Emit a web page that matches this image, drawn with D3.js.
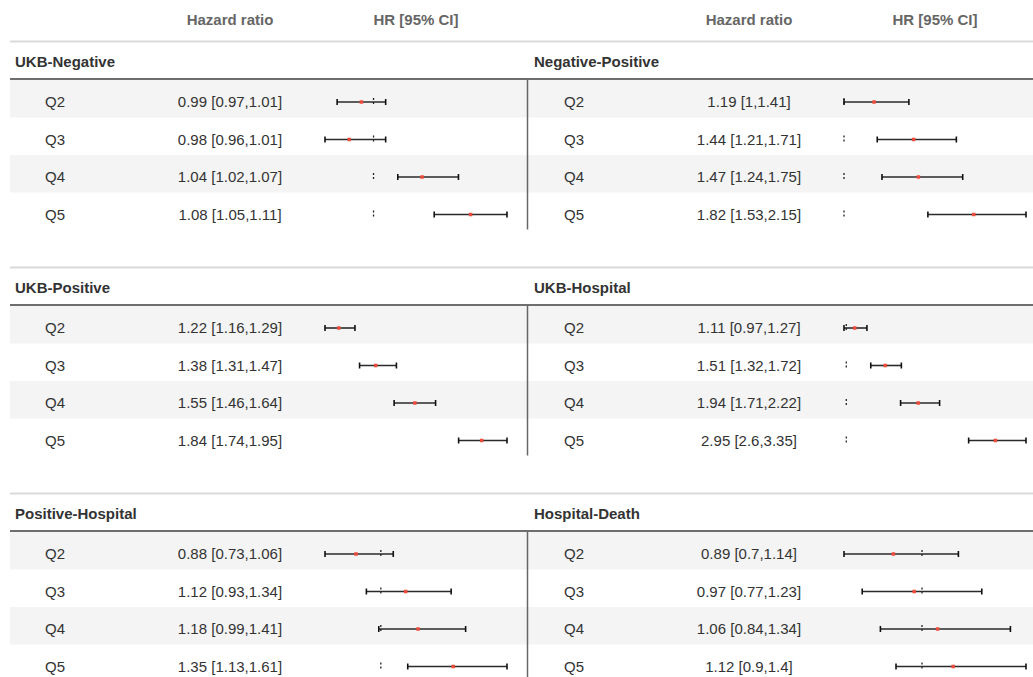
<!DOCTYPE html>
<html>
<head>
<meta charset="utf-8">
<script src="https://cdn.jsdelivr.net/npm/d3@7"></script>
<style>
  body { margin: 0; background: #fff; }
  text { font-family: "Liberation Sans", Arial, Helvetica, sans-serif; }
</style>
</head>
<body>
<div id="container"></div>
<script>
const WIDTH = 1033,
      HEIGHT = 677;

// groups in reading order (left, right, left, right ...)
const groups = ["UKB-Negative", "Negative-Positive", "UKB-Positive",
                "UKB-Hospital", "Positive-Hospital", "Hospital-Death"];
const quintiles = ["Q2", "Q3", "Q4", "Q5"];
const headers = ["Hazard ratio", "HR [95% CI]"];

// hazard ratios, one array per group
const hrValues = [
    [0.99, 0.98, 1.04, 1.08],
    [1.19, 1.44, 1.47, 1.82],
    [1.22, 1.38, 1.55, 1.84],
    [1.11, 1.51, 1.94, 2.95],
    [0.88, 1.12, 1.18, 1.35],
    [0.89, 0.97, 1.06, 1.12]
];
const lowerValues = [
    [0.97, 0.96, 1.02, 1.05],
    [1, 1.21, 1.24, 1.53],
    [1.16, 1.31, 1.46, 1.74],
    [0.97, 1.32, 1.71, 2.6],
    [0.73, 0.93, 0.99, 1.13],
    [0.7, 0.77, 0.84, 0.9]
];
const upperValues = [
    [1.01, 1.01, 1.07, 1.11],
    [1.41, 1.71, 1.75, 2.15],
    [1.29, 1.47, 1.64, 1.95],
    [1.27, 1.72, 2.22, 3.35],
    [1.06, 1.34, 1.41, 1.61],
    [1.14, 1.23, 1.34, 1.4]
];

const colOffset = [0, 519];
const sectionTop = 41.5, sectionStep = 226;
const rowH = 37.5;

const svg = d3.select('#container').append('svg');
svg.attr("width", WIDTH).attr("height", HEIGHT);

// column headers
colOffset.forEach((off) => {
    svg.append("text")
        .attr("x", 230 + off).attr("y", 20)
        .attr("dy", "0.35em")
        .attr("text-anchor", "middle")
        .attr("font-size", 15).attr("font-weight", "bold")
        .attr("fill", "#666")
        .text(headers[0]);
    svg.append("text")
        .attr("x", 416 + off).attr("y", 20)
        .attr("dy", "0.35em")
        .attr("text-anchor", "middle")
        .attr("font-size", 15).attr("font-weight", "bold")
        .attr("fill", "#666")
        .text(headers[1]);
});

const sections = d3.range(3);

// row stripes, full width
sections.forEach((s) => {
    const top = sectionTop + s * sectionStep + 38.5;
    quintiles.forEach((q, i) => {
        if (i % 2 === 0) {
            svg.append("rect")
                .attr("x", 10).attr("y", top + i * rowH)
                .attr("width", WIDTH - 10).attr("height", rowH)
                .attr("fill", "#f4f4f4");
        }
    });
    svg.append("line")
        .attr("x1", 10).attr("x2", WIDTH)
        .attr("y1", sectionTop + s * sectionStep)
        .attr("y2", sectionTop + s * sectionStep)
        .attr("stroke", "#d9d9d9").attr("stroke-width", 2);
    svg.append("line")
        .attr("x1", 10).attr("x2", WIDTH)
        .attr("y1", sectionTop + s * sectionStep + 37.5)
        .attr("y2", sectionTop + s * sectionStep + 37.5)
        .attr("stroke", "#6e6e6e").attr("stroke-width", 2);
    svg.append("line")
        .attr("x1", 527.5).attr("x2", 527.5)
        .attr("y1", sectionTop + s * sectionStep + 38)
        .attr("y2", sectionTop + s * sectionStep + 188)
        .attr("stroke", "#666").attr("stroke-width", 1.5);
});

groups.forEach((name, g) => {
    const off = colOffset[g % 2];
    const s = Math.floor(g / 2);
    const top = sectionTop + s * sectionStep;

    const data = quintiles.map((q, i) => ({
        q: q,
        hr: hrValues[g][i],
        lo: lowerValues[g][i],
        hi: upperValues[g][i]
    }));

    const yScale = d3.scaleBand()
        .domain(quintiles)
        .range([top + 38.5, top + 38.5 + rowH * 4]);
    const yMid = (q) => yScale(q) + 22;

    const xScale = d3.scaleLinear()
        .domain([d3.min(data, (d) => d.lo), d3.max(data, (d) => d.hi)])
        .range([325 + off, 507 + off]);

    const panel = svg.append("g");

    panel.append("text")
        .attr("x", 15 + off).attr("y", top + 20)
        .attr("dy", "0.35em")
        .attr("font-size", 15).attr("font-weight", "bold")
        .attr("fill", "#333")
        .text(name);

    panel.selectAll(".qlab")
        .data(data)
        .join("text")
        .attr("class", "qlab")
        .attr("x", 45 + off)
        .attr("y", (d) => yMid(d.q))
        .attr("dy", "0.35em")
        .attr("font-size", 15).attr("fill", "#333")
        .text((d) => d.q);

    panel.selectAll(".hrlab")
        .data(data)
        .join("text")
        .attr("class", "hrlab")
        .attr("x", 230 + off)
        .attr("y", (d) => yMid(d.q))
        .attr("dy", "0.35em")
        .attr("text-anchor", "middle")
        .attr("font-size", 15).attr("fill", "#333")
        .text((d) => `${d.hr} [${d.lo},${d.hi}]`);

    // reference line at HR = 1
    const [d0, d1] = xScale.domain();
    if (d0 <= 1 && d1 >= 1) {
        panel.selectAll(".ref")
            .data(data)
            .join("line")
            .attr("class", "ref")
            .attr("x1", xScale(1)).attr("x2", xScale(1))
            .attr("y1", (d) => yMid(d.q) - 4)
            .attr("y2", (d) => yMid(d.q) + 4)
            .attr("stroke", "#222").attr("stroke-width", 1.3)
            .attr("stroke-dasharray", "2,2");
    }

    panel.selectAll(".ci")
        .data(data)
        .join("line")
        .attr("class", "ci")
        .attr("x1", (d) => xScale(d.lo)).attr("x2", (d) => xScale(d.hi))
        .attr("y1", (d) => yMid(d.q)).attr("y2", (d) => yMid(d.q))
        .attr("stroke", "#2a2a2a").attr("stroke-width", 1.6);

    ["lo", "hi"].forEach((k) => {
        panel.selectAll(".cap-" + k)
            .data(data)
            .join("line")
            .attr("class", "cap-" + k)
            .attr("x1", (d) => xScale(d[k])).attr("x2", (d) => xScale(d[k]))
            .attr("y1", (d) => yMid(d.q) - 3)
            .attr("y2", (d) => yMid(d.q) + 3)
            .attr("stroke", "#111").attr("stroke-width", 1.6);
    });

    panel.selectAll(".pt")
        .data(data)
        .join("rect")
        .attr("class", "pt")
        .attr("x", (d) => xScale(d.hr) - 1.75)
        .attr("y", (d) => yMid(d.q) - 1.75)
        .attr("width", 3.5).attr("height", 3.5)
        .attr("fill", "#ef4b3c");
});
</script>
</body>
</html>
